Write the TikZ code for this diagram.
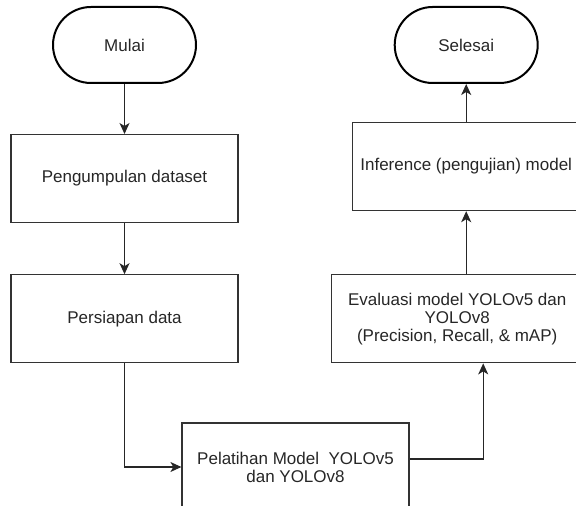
\documentclass[tikz,border=0pt]{standalone}
\usepackage{fontspec}
\setmainfont{Liberation Sans}
\usetikzlibrary{positioning}
\usetikzlibrary{arrows.meta}

\begin{document}
\begin{tikzpicture}[x=0.5pt,y=-0.5pt,
        proses/.style={draw=black!80, line width=0.6pt,
                       minimum width=113.5pt, minimum height=44pt,
                       align=center, text=black!85,
                       font=\fontsize{8.5}{9}\selectfont},
        terminal/.style={draw=black, line width=1pt,
                         rounded corners=19pt,
                         minimum width=71.5pt, minimum height=38pt,
                         text=black!85,
                         font=\fontsize{8.5}{9}\selectfont},
        panah/.style={draw=black!85, line width=0.6pt,
                      -{Stealth[length=5.5pt,width=5pt,inset=1.5pt]}},
        ]

        \useasboundingbox (0,0) rectangle (576,506);
        \clip (0,0) rectangle (576,506);

        \node (mulai) [terminal] at (124.5,45) {Mulai};
        \node (kumpul) [proses, below=25pt of mulai] {Pengumpulan dataset};
        \node (siap) [proses, below=25.5pt of kumpul] {Persiapan data};
        \node (latih) [proses] at (295.5,467) {Pelatihan Model~~YOLOv5\\dan YOLOv8};

        \node (eval) [proses, minimum width=126pt,
                      right=46pt of siap] {Evaluasi model YOLOv5 dan\\YOLOv8\\(Precision, Recall, \& mAP)};
        \node (infer) [proses, above=31.5pt of eval, xshift=4.5pt] {Inference (pengujian) model};
        \node (selesai) [terminal, above=19pt of infer] {Selesai};

        \draw[panah] (mulai) -- (kumpul);
        \draw[panah] (kumpul) -- (siap);
        \draw[panah] (siap.south) |- (latih.west);
        \draw[panah] ([yshift=4pt]latih.east) -| ([xshift=13pt]eval.south);
        \draw[panah] (eval.north -| infer.south) -- (infer.south);
        \draw[panah] (infer) -- (selesai);

    \end{tikzpicture}
\end{document}
